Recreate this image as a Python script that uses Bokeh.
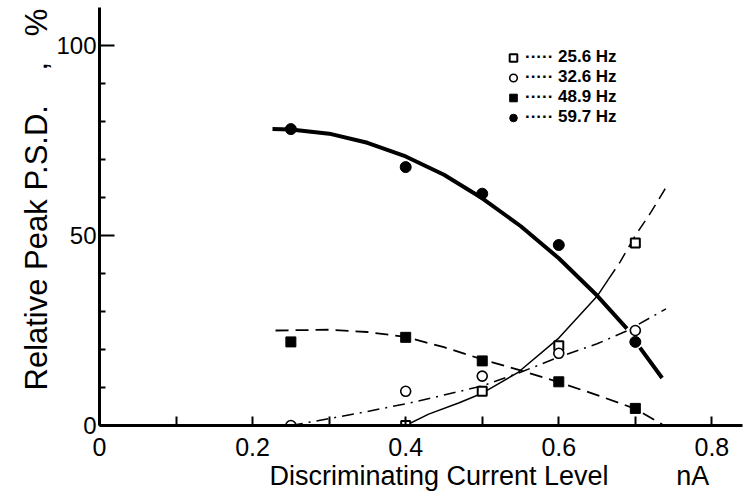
from bokeh.plotting import figure
from bokeh.models import Range1d, FixedTicker, Legend, LegendItem, NumeralTickFormatter, Title
from bokeh.embed import file_html
from bokeh.resources import INLINE

nan = float("nan")

# ---- measured data points ----
x_25_6 = [0.4, 0.5, 0.6, 0.7]
y_25_6 = [0.0, 9.0, 21.0, 48.0]

x_32_6 = [0.25, 0.4, 0.5, 0.6, 0.7]
y_32_6 = [0.0, 9.0, 13.0, 19.0, 25.0]

x_48_9 = [0.25, 0.4, 0.5, 0.6, 0.7]
y_48_9 = [22.0, 23.2, 17.0, 11.5, 4.5]

x_59_7 = [0.25, 0.4, 0.5, 0.6, 0.7]
y_59_7 = [78.0, 68.0, 61.0, 47.5, 22.0]

# ---- hand-drawn fitted curves ----
fit_25_6_solid_x = [0.40, 0.43, 0.47, 0.50, 0.547, 0.60, 0.65, 0.665]
fit_25_6_solid_y = [0.0, 3.0, 6.0, 8.5, 14.0, 23.0, 34.0, 38.5]
fit_25_6_dash_x = [0.665, 0.68, 0.70, 0.72, 0.739]
fit_25_6_dash_y = [38.5, 43.0, 50.0, 56.0, 62.3]

fit_32_6_x = [0.25, 0.30, 0.35, 0.40, 0.45, 0.50, 0.55, 0.60, 0.65, 0.69, 0.74]
fit_32_6_y = [0.0, 1.8, 3.7, 5.7, 8.0, 10.4, 14.0, 18.0, 21.5, 25.0, 30.7]

fit_48_9_x = [0.23, 0.30, 0.35, 0.40, 0.45, 0.50, 0.55, 0.60, 0.65, 0.70, 0.735]
fit_48_9_y = [25.0, 25.2, 24.6, 23.3, 20.6, 17.4, 14.5, 11.4, 8.0, 4.4, 0.3]

fit_59_7_x = [0.226, 0.25, 0.30, 0.35, 0.40, 0.45, 0.50, 0.55, 0.60, 0.65, 0.689, nan, 0.706, 0.735]
fit_59_7_y = [78.0, 77.9, 76.8, 74.4, 70.8, 66.0, 59.8, 52.5, 44.0, 34.2, 25.5, nan, 20.5, 12.5]

# ---- axis ticks / labels ----
x_major = [0.0, 0.2, 0.4, 0.6, 0.8]
x_minor = [0.1, 0.3, 0.5, 0.7]
y_major = [0, 50, 100]
y_minor = [10, 20, 30, 40, 60, 70, 80, 90]
legend_labels = ["25.6 Hz", "32.6 Hz", "48.9 Hz", "59.7 Hz"]
x_title = "Discriminating Current Level"
x_unit = "nA"
y_title = "Relative Peak P.S.D."
y_unit = "%"

FONT = "Liberation Sans"
NB = "\u00a0"

p = figure(width=745, height=499, output_backend="svg", toolbar_location=None,
           x_range=Range1d(0, 0.84), y_range=Range1d(0, 110),
           min_border_left=99, min_border_right=3, min_border_top=7, min_border_bottom=74)
p.outline_line_color = None
p.grid.visible = False
p.background_fill_color = "white"
p.border_fill_color = "white"

# x axis
xa = p.xaxis[0]
xa.ticker = FixedTicker(ticks=x_major, minor_ticks=x_minor)
xa.formatter = NumeralTickFormatter(format="0.[0]")
xa.axis_line_width = 3
xa.major_tick_in = 9
xa.major_tick_out = 0
xa.minor_tick_in = 9
xa.minor_tick_out = 0
xa.major_tick_line_width = 2
xa.minor_tick_line_width = 2
xa.major_label_text_font = FONT
xa.major_label_text_font_size = "25px"
xa.major_label_text_color = "black"
xa.major_label_standoff = 12

# y axis
ya = p.yaxis[0]
ya.ticker = FixedTicker(ticks=y_major, minor_ticks=y_minor)
ya.axis_line_width = 3
ya.major_tick_in = 15
ya.major_tick_out = 0
ya.minor_tick_in = 6
ya.minor_tick_out = 0
ya.major_tick_line_width = 2
ya.minor_tick_line_width = 2
ya.major_label_text_font = FONT
ya.major_label_text_font_size = "24px"
ya.major_label_text_color = "black"
ya.major_label_standoff = 3

# fitted curves
p.line(fit_59_7_x, fit_59_7_y, line_color="black", line_width=4)
p.line(fit_25_6_solid_x, fit_25_6_solid_y, line_color="black", line_width=1.5)
p.line(fit_25_6_dash_x, fit_25_6_dash_y, line_color="black", line_width=1.5, line_dash="12 7")
p.line(fit_32_6_x, fit_32_6_y, line_color="black", line_width=1.5, line_dash="12 6 2 6")
p.line(fit_48_9_x, fit_48_9_y, line_color="black", line_width=1.8, line_dash="13 7")

# points
r25 = p.scatter(x_25_6, y_25_6, marker="square", size=9, fill_color="white", line_color="black", line_width=2)
r32 = p.scatter(x_32_6, y_32_6, marker="circle", size=10, fill_color="white", line_color="black", line_width=1.6)
r48 = p.scatter(x_48_9, y_48_9, marker="square", size=10, fill_color="black", line_color="black")
r59 = p.scatter(x_59_7, y_59_7, marker="circle", size=11, fill_color="black", line_color="black")

dots = "\u00b7\u00b7\u00b7\u00b7\u00b7" + NB
items = [LegendItem(label=dots + lab, renderers=[r]) for lab, r in zip(legend_labels, [r25, r32, r48, r59])]
legend = Legend(items=items, location=(404, 298), orientation="vertical",
                glyph_width=20, glyph_height=19, label_height=19, spacing=0, padding=0, margin=0,
                label_standoff=2, background_fill_alpha=0, border_line_color=None,
                label_text_font=FONT, label_text_font_style="bold", label_text_font_size="17px",
                label_text_color="black")
p.add_layout(legend)

# axis titles
p.add_layout(Title(text=x_title + NB * 9 + x_unit, align="left", offset=170,
                   text_font=FONT, text_font_size="27px", text_font_style="normal",
                   text_color="black", standoff=0), "below")
p.add_layout(Title(text=y_title + NB * 4 + "," + NB * 3 + y_unit, align="left", offset=35,
                   text_font=FONT, text_font_size="31px", text_font_style="normal",
                   text_color="black", standoff=0), "left")

open("out.html", "w").write(file_html(p, INLINE))
